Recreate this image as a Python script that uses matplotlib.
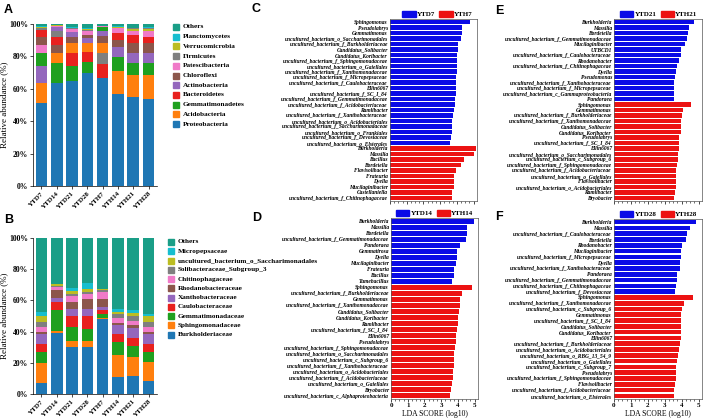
import numpy as np
import matplotlib
matplotlib.use("Agg")
import matplotlib.pyplot as plt
from matplotlib.patches import Patch
from matplotlib.ticker import MultipleLocator

plt.rcParams['font.family'] = ['Liberation Serif', 'DejaVu Serif']
plt.rcParams['font.weight'] = 'bold'

# ---------------- data ----------------
samples = ['YTD7', 'YTD14', 'YTD21', 'YTD28', 'YTH7', 'YTH14', 'YTH21', 'YTH28']

# phylum level (%), panel A
proteobacteria   = [51.0, 63.5, 64.7, 70.0, 66.7, 56.5, 55.1, 53.5]
acidobacteria    = [12.7, 5.9, 5.7, 5.1, 6.2, 14.3, 13.7, 15.3]
gemmatimonadetes = [7.7, 12.6, 9.3, 6.8, 2.6, 8.8, 7.1, 7.1]
bacteroidetes    = [4.4, 5.0, 8.3, 6.2, 8.8, 4.1, 5.1, 4.0]
actinobacteria   = [10.6, 2.5, 3.5, 3.0, 2.7, 6.1, 6.5, 6.2]
chloroflexi      = [4.6, 5.2, 3.8, 2.4, 4.5, 4.5, 5.8, 6.1]
patescibacteria  = [5.3, 0.5, 1.5, 2.3, 0.5, 3.0, 2.6, 3.7]
firmicutes       = [1.0, 3.7, 0.5, 0.8, 6.5, 0.5, 0.5, 0.5]
verrucomicrobia  = [1.0, 0.2, 0.5, 0.5, 0.3, 0.5, 1.0, 1.2]
planctomycetes   = [0.5, 0.1, 0.4, 0.5, 0.2, 0.3, 0.3, 0.4]
others_phylum    = [1.2, 0.8, 1.8, 2.4, 1.0, 1.4, 2.3, 2.0]

phylum_names = ['Proteobacteria', 'Acidobacteria', 'Gemmatimonadetes', 'Bacteroidetes',
                'Actinobacteria', 'Chloroflexi', 'Patescibacteria', 'Firmicutes',
                'Verrucomicrobia', 'Planctomycetes', 'Others']

# family level (%), panel B
burkholderiaceae   = [7.2, 38.8, 29.9, 30.3, 48.0, 10.7, 11.5, 8.5]
sphingomonadaceae  = [12.8, 1.7, 4.2, 3.8, 1.0, 14.2, 12.4, 12.2]
gemmatimonadaceae  = [7.1, 13.5, 9.0, 7.5, 2.2, 8.6, 6.8, 6.4]
caulobacteraceae   = [4.9, 4.7, 6.8, 8.3, 2.5, 4.9, 5.3, 4.9]
xanthobacteraceae  = [6.4, 3.0, 4.9, 4.9, 2.2, 5.7, 6.0, 6.4]
rhodanobacteraceae = [1.5, 5.0, 4.3, 5.8, 4.7, 1.5, 2.1, 1.5]
chitinophagaceae   = [3.2, 2.2, 3.6, 3.4, 4.9, 2.8, 2.8, 3.2]
solibacteraceae    = [3.2, 0.5, 1.7, 1.2, 1.0, 2.8, 3.0, 3.2]
unc_saccharimon    = [3.6, 1.0, 1.7, 2.4, 0.8, 1.5, 2.1, 3.6]
micropepsaceae     = [2.8, 0.3, 2.1, 3.6, 0.3, 1.5, 1.7, 1.7]
others_family      = [47.3, 29.3, 31.8, 28.8, 32.4, 45.8, 46.3, 48.4]

family_names = ['Burkholderiaceae', 'Sphingomonadaceae', 'Gemmatimonadaceae', 'Caulobacteraceae',
                'Xanthobacteraceae', 'Rhodanobacteraceae', 'Chitinophagaceae',
                'Solibacteraceae_Subgroup_3', 'uncultured_bacterium_o_Saccharimonadales',
                'Micropepsaceae', 'Others']

# LEfSe, panel C (YTD7 vs YTH7)
c_ytd = ['Sphingomonas', 'Pseudolabrys', 'Gemmatimonas', 'uncultured_bacterium_o_Saccharimonadales',
         'uncultured_bacterium_f_Burkholderiaceae', 'Candidatus_Solibacter', 'Candidatus_Koribacter',
         'uncultured_bacterium_f_Sphingomonadaceae', 'uncultured_bacterium_o_Gaiellales',
         'uncultured_bacterium_f_Xanthomonadaceae', 'uncultured_bacterium_f_Micropepsaceae',
         'uncultured_bacterium_f_Caulobacteraceae', 'Ellin6067', 'uncultured_bacterium_f_SC_I_84',
         'uncultured_bacterium_f_Gemmatimonadaceae', 'uncultured_bacterium_f_Acidobacteriaceae',
         'Ramlibacter', 'uncultured_bacterium_f_Xanthobacteraceae', 'uncultured_bacterium_o_Acidobacteriales',
         'uncultured_bacterium_f_Saccharimonadaceae', 'uncultured_bacterium_o_Frankiales',
         'uncultured_bacterium_f_Devosiaceae', 'uncultured_bacterium_o_Elsterales']
c_ytd_lda = [4.76, 4.33, 4.29, 4.27, 4.09, 4.05, 4.03, 4.01, 4.01, 3.99, 3.97, 3.97, 3.95, 3.93,
             3.91, 3.89, 3.85, 3.79, 3.73, 3.71, 3.69, 3.67, 3.57]
c_yth = ['Burkholderia', 'Massilia', 'Bacillus', 'Bordetella', 'Flavisolibacter', 'Frateuria',
         'Dyella', 'Mucilaginibacter', 'Castellaniella', 'uncultured_bacterium_f_Chitinophagaceae']
c_yth_lda = [5.12, 5.04, 4.42, 4.27, 3.93, 3.85, 3.83, 3.81, 3.71, 3.71]

# panel D (YTD14 vs YTH14)
d_ytd = ['Burkholderia', 'Massilia', 'Bordetella', 'uncultured_bacterium_f_Gemmatimonadaceae',
         'Pandoraea', 'Gemmatirosa', 'Dyella', 'Mucilaginibacter', 'Frateuria', 'Bacillus', 'Tumebacillus']
d_ytd_lda = [4.98, 4.57, 4.53, 4.51, 4.11, 3.97, 3.93, 3.87, 3.79, 3.74, 3.66]
d_yth = ['Sphingomonas', 'uncultured_bacterium_f_Burkholderiaceae', 'Gemmatimonas',
         'uncultured_bacterium_f_Xanthomonadaceae', 'Candidatus_Solibacter', 'Candidatus_Koribacter',
         'Ramlibacter', 'uncultured_bacterium_f_SC_I_84', 'Ellin6067', 'Pseudolabrys',
         'uncultured_bacterium_f_Sphingomonadaceae', 'uncultured_bacterium_o_Saccharimonadales',
         'uncultured_bacterium_c_Subgroup_6', 'uncultured_bacterium_f_Xanthobacteraceae',
         'uncultured_bacterium_o_Acidobacteriales', 'uncultured_bacterium_f_Acidobacteriaceae',
         'uncultured_bacterium_o_Gaiellales', 'Bryobacter', 'uncultured_bacterium_c_Alphaproteobacteria']
d_yth_lda = [4.84, 4.23, 4.13, 4.11, 4.09, 4.03, 3.99, 3.97, 3.91, 3.87, 3.85, 3.79, 3.75, 3.74,
             3.70, 3.68, 3.64, 3.58, 3.54]

# panel E (YTD21 vs YTH21)
e_ytd = ['Burkholderia', 'Massilia', 'Bordetella', 'uncultured_bacterium_f_Gemmatimonadaceae',
         'Mucilaginibacter', 'UTBCD1', 'uncultured_bacterium_f_Caulobacteraceae', 'Rhodanobacter',
         'uncultured_bacterium_f_Chitinophagaceae', 'Dyella', 'Pseudomonas',
         'uncultured_bacterium_f_Xanthobacteraceae', 'uncultured_bacterium_f_Micropepsaceae',
         'uncultured_bacterium_c_Gammaproteobacteria', 'Pandoraea']
e_ytd_lda = [4.75, 4.41, 4.38, 4.30, 4.18, 3.95, 3.95, 3.87, 3.73, 3.69, 3.61, 3.55, 3.55, 3.54, 3.54]
e_yth = ['Sphingomonas', 'Gemmatimonas', 'uncultured_bacterium_f_Burkholderiaceae',
         'uncultured_bacterium_f_Xanthomonadaceae', 'Candidatus_Solibacter', 'Candidatus_Koribacter',
         'Pseudolabrys', 'uncultured_bacterium_f_SC_I_84', 'Ellin6067',
         'uncultured_bacterium_o_Saccharimonadales', 'uncultured_bacterium_c_Subgroup_6',
         'uncultured_bacterium_f_Sphingomonadaceae', 'uncultured_bacterium_f_Acidobacteriaceae',
         'uncultured_bacterium_o_Gaiellales', 'Flavisolibacter', 'uncultured_bacterium_o_Acidobacteriales',
         'Ramlibacter', 'Bryobacter']
e_yth_lda = [4.55, 4.06, 4.02, 3.98, 3.96, 3.93, 3.87, 3.85, 3.83, 3.81, 3.77, 3.71, 3.69, 3.67,
             3.67, 3.65, 3.59, 3.54]

# panel F (YTD28 vs YTH28)
f_ytd = ['Burkholderia', 'Massilia', 'uncultured_bacterium_f_Caulobacteraceae', 'Bordetella',
         'Rhodanobacter', 'Mucilaginibacter', 'uncultured_bacterium_f_Micropepsaceae', 'Dyella',
         'uncultured_bacterium_f_Xanthobacteraceae', 'Pandoraea', 'uncultured_bacterium_f_Gemmatimonadaceae',
         'uncultured_bacterium_f_Chitinophagaceae', 'uncultured_bacterium_f_Devosiaceae']
f_ytd_lda = [4.84, 4.49, 4.30, 4.26, 4.02, 3.95, 3.93, 3.91, 3.89, 3.75, 3.73, 3.67, 3.59]
f_yth = ['Sphingomonas', 'uncultured_bacterium_f_Xanthomonadaceae', 'uncultured_bacterium_c_Subgroup_6',
         'Gemmatimonas', 'uncultured_bacterium_f_SC_I_84', 'Candidatus_Solibacter', 'Candidatus_Koribacter',
         'Ellin6067', 'uncultured_bacterium_f_Burkholderiaceae', 'uncultured_bacterium_o_Acidobacteriales',
         'uncultured_bacterium_o_RBG_13_54_9', 'uncultured_bacterium_o_Gaiellales',
         'uncultured_bacterium_c_Subgroup_7', 'Pseudolabrys', 'uncultured_bacterium_f_Sphingomonadaceae',
         'Flavisolibacter', 'uncultured_bacterium_f_Acidobacteriaceae', 'uncultured_bacterium_o_Elsterales']
f_yth_lda = [4.65, 4.14, 4.00, 3.98, 3.96, 3.96, 3.95, 3.93, 3.89, 3.87, 3.81, 3.71, 3.69, 3.67,
             3.65, 3.61, 3.57, 3.52]

# ---------------- style ----------------
stack_colors = ['#1f77b4', '#ff7f0e', '#1fa01f', '#e8211e', '#9467bd', '#8c564b',
                '#f07ac8', '#7f7f7f', '#bcbd22', '#17becf', '#1a9e87']
BLUE = '#0a0ae6'
RED = '#ec1212'

W, H = 708, 420
fig = plt.figure(figsize=(W / 100, H / 100), dpi=100)


def box(l, t, r, b):
    # axes from pixel edges (origin top-left)
    return fig.add_axes([l / W, 1 - b / H, (r - l) / W, (b - t) / H])


def panel_letter(x, y, s):
    fig.text(x / W, 1 - y / H, s, fontsize=9, fontweight='bold',
             family='Liberation Sans', ha='left', va='center')


def stacked(ax, table, names, sort_each, leg_x, leg_y, leg_step):
    table = np.array(table, dtype=float)
    x = np.arange(len(samples))
    for j in range(len(samples)):
        if sort_each:
            order = list(np.argsort(-table[:-1, j], kind='stable')) + [len(names) - 1]
        else:
            order = list(range(len(names)))
        bottom = 0.0
        for i in order:
            ax.bar(x[j], table[i, j], bottom=bottom, width=0.76,
                   color=stack_colors[i], linewidth=0)
            bottom += table[i, j]
    ax.set_xlim(-0.55, len(samples) - 0.45)
    ax.set_ylim(0, 100)
    ax.set_yticks([0, 20, 40, 60, 80, 100])
    ax.set_yticklabels(['0%', '20%', '40%', '60%', '80%', '100%'], fontsize=5.5)
    ax.set_xticks(x)
    ax.set_xticklabels(samples, rotation=45, ha='right', rotation_mode='anchor', fontsize=5)
    ax.tick_params(axis='both', length=2, width=0.5, pad=1.5)
    ax.set_ylabel('Relative abundance (%)', fontsize=6.5)
    ax.yaxis.set_label_coords(-25 / 124, 0.5)
    for s in ['top', 'right']:
        ax.spines[s].set_visible(False)
    for s in ['left', 'bottom']:
        ax.spines[s].set_linewidth(0.5)
    # legend, top entry = Others
    for k, i in enumerate(range(len(names) - 1, -1, -1)):
        yy = leg_y + k * leg_step
        fig.patches.append(plt.Rectangle((leg_x / W, 1 - (yy + 3) / H), 6 / W, 6 / H,
                                         transform=fig.transFigure, color=stack_colors[i]))
        fig.text((leg_x + 10) / W, 1 - yy / H, names[i], fontsize=5.2, ha='left', va='center')


def lda(ax, nd, vd, nh, vh, gd, gh, bottom):
    names = nd + nh
    vals = vd + vh
    cols = [BLUE] * len(nd) + [RED] * len(nh)
    y = np.arange(len(names))
    ax.barh(y, vals, height=0.8, color=cols, linewidth=0)
    ax.set_yticks(y)
    ax.set_yticklabels(names, fontsize=4.0, style='italic')
    ax.set_ylim(len(names) - 0.45, -0.55)
    ax.set_xlim(0, 5.2)
    ax.xaxis.set_major_locator(MultipleLocator(1))
    ax.xaxis.set_minor_locator(MultipleLocator(0.25))
    ax.tick_params(axis='y', length=0, pad=1.5)
    ax.tick_params(axis='x', which='major', length=2.5, width=0.5, pad=0.5, labelsize=5)
    ax.tick_params(axis='x', which='minor', length=1.5, width=0.4)
    for s in ax.spines.values():
        s.set_linewidth(0.5)
        s.set_color('#555555')
    if bottom:
        ax.set_xlabel('LDA SCORE (log10)', fontsize=5.5, va='center')
        ax.xaxis.set_label_coords(0.5, -15.5 / 181)
    else:
        ax.set_xticklabels([])
    ax.legend(handles=[Patch(color=BLUE, label=gd), Patch(color=RED, label=gh)],
              loc='lower right', bbox_to_anchor=(0.97, 1.0), ncol=2, frameon=False,
              fontsize=5, handlelength=1.9, handleheight=0.85, handletextpad=0.2,
              columnspacing=0.6, borderpad=0.1, borderaxespad=0.15)


# ---------------- panels ----------------
axA = box(33, 24, 157, 186)
stacked(axA, [proteobacteria, acidobacteria, gemmatimonadetes, bacteroidetes, actinobacteria,
              chloroflexi, patescibacteria, firmicutes, verrucomicrobia, planctomycetes,
              others_phylum], phylum_names, True, 173, 27, 9.7)

axB = box(33, 238, 157, 394)
stacked(axB, [burkholderiaceae, sphingomonadaceae, gemmatimonadaceae, caulobacteraceae,
              xanthobacteraceae, rhodanobacteraceae, chitinophagaceae, solibacteraceae,
              unc_saccharimon, micropepsaceae, others_family], family_names, False, 168, 242, 9.25)

axC = box(390, 19, 477, 201)
lda(axC, c_ytd, c_ytd_lda, c_yth, c_yth_lda, 'YTD7', 'YTH7', False)
axD = box(391, 218, 478, 399)
lda(axD, d_ytd, d_ytd_lda, d_yth, d_yth_lda, 'YTD14', 'YTH14', True)
axE = box(614, 19, 702, 201)
lda(axE, e_ytd, e_ytd_lda, e_yth, e_yth_lda, 'YTD21', 'YTH21', False)
axF = box(614, 219, 702, 399)
lda(axF, f_ytd, f_ytd_lda, f_yth, f_yth_lda, 'YTD28', 'YTH28', True)

panel_letter(4, 10, 'A')
panel_letter(4, 220, 'B')
panel_letter(252, 9, 'C')
panel_letter(252, 218, 'D')
panel_letter(495, 11, 'E')
panel_letter(495, 217, 'F')

fig.savefig('out.png', dpi=100)
